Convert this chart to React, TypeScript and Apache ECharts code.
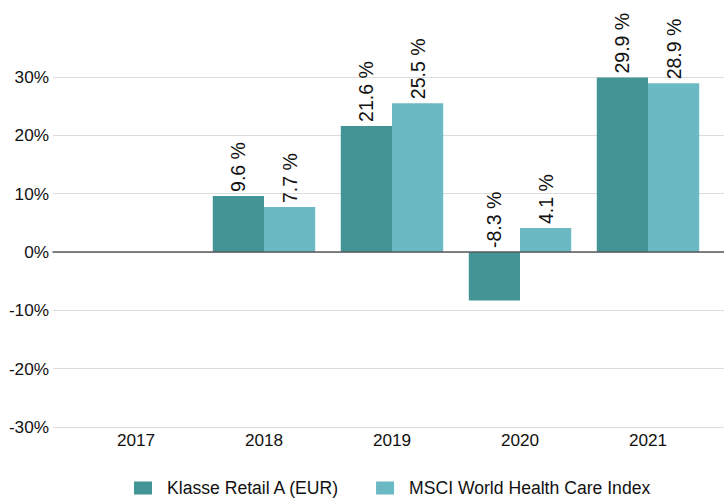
import React, { useEffect, useRef } from "react";
import * as echarts from "echarts";

const years = ["2017", "2018", "2019", "2020", "2021"];
const seriesNames = ["Klasse Retail A (EUR)", "MSCI World Health Care Index"];
const fundValues: (number | null)[] = [null, 9.6, 21.6, -8.3, 29.9];
const indexValues: (number | null)[] = [null, 7.7, 25.5, 4.1, 28.9];
const colors = ["#429594", "#6bb9c3"];

const FONT = "'Liberation Sans', Arial, sans-serif";

export default function App() {
  const ref = useRef<HTMLDivElement>(null);
  useEffect(() => {
    if (!ref.current) return;
    const chart = echarts.init(ref.current, null, { renderer: "svg" });
    const top = 18.6;
    const bottom = 72;
    const label = {
      show: true,
      position: "top" as const,
      rotate: 90,
      align: "left" as const,
      verticalAlign: "middle" as const,
      distance: 4,
      fontFamily: FONT,
      fontSize: 19.5,
      color: "#111",
      formatter: (p: any) => `${p.value} %`,
    };
    chart.setOption({
      animation: false,
      textStyle: { fontFamily: FONT },
      grid: [
        { left: 53, right: 0, top, bottom },
        { left: 72, right: 12, top, bottom },
      ],
      legend: {
        left: 134,
        top: 479,
        width: 600,
        padding: 0,
        itemWidth: 18,
        itemHeight: 13,
        itemGap: 36,
        icon: "rect",
        textStyle: {
          fontFamily: FONT,
          fontSize: 17.6,
          lineHeight: 18,
          color: "#111",
          padding: [0, 0, 0, 10],
        },
        data: seriesNames,
      },
      xAxis: [
        {
          gridIndex: 0,
          type: "category",
          data: [""],
          axisLine: { show: true, onZero: true, lineStyle: { color: "#5a5a5a", width: 1.5 } },
          axisTick: { show: false },
          axisLabel: { show: false },
          splitLine: { show: false },
          z: 5,
        },
        {
          gridIndex: 1,
          type: "category",
          data: years,
          axisLine: { show: false },
          axisTick: { show: false },
          axisLabel: {
            fontFamily: FONT,
            fontSize: 17.2,
            color: "#111",
            margin: 4,
          },
        },
      ],
      yAxis: [
        {
          gridIndex: 0,
          type: "value",
          min: -30,
          max: 40,
          interval: 10,
          axisLine: { show: false },
          axisTick: { show: false },
          axisLabel: {
            formatter: "{value}%",
            fontFamily: FONT,
            fontSize: 17.2,
            color: "#111",
            margin: 4,
            showMaxLabel: false,
          },
          splitLine: {
            show: true,
            showMaxLine: false,
            lineStyle: { color: "#dcdcdc", width: 1.2 },
          },
        },
        {
          gridIndex: 1,
          type: "value",
          min: -30,
          max: 40,
          interval: 10,
          show: false,
          splitLine: { show: false },
        },
      ],
      series: [
        {
          name: seriesNames[0],
          type: "bar",
          xAxisIndex: 1,
          yAxisIndex: 1,
          data: fundValues,
          barGap: "0%",
          barCategoryGap: "20%",
          itemStyle: { color: colors[0] },
          label,
        },
        {
          name: seriesNames[1],
          type: "bar",
          xAxisIndex: 1,
          yAxisIndex: 1,
          data: indexValues,
          barGap: "0%",
          barCategoryGap: "20%",
          itemStyle: { color: colors[1] },
          label,
        },
      ],
    });
    return () => chart.dispose();
  }, []);
  return <div ref={ref} style={{ width: 724, height: 499, position: "absolute", left: 0, top: 0 }} />;
}
